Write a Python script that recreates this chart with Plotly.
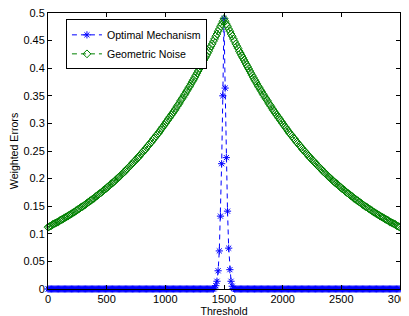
import plotly.graph_objects as go

thresholds = list(range(0, 3001, 10))

# Geometric Noise, thresholds 0..1500
geometric_left = [
    0.112, 0.113, 0.114, 0.115, 0.117, 0.118, 0.119, 0.120, 0.121, 0.122, 0.124,
    0.125, 0.126, 0.127, 0.129, 0.130, 0.131, 0.132, 0.134, 0.135, 0.136,
    0.138, 0.139, 0.140, 0.142, 0.143, 0.145, 0.146, 0.148, 0.149, 0.150,
    0.152, 0.153, 0.155, 0.157, 0.158, 0.160, 0.161, 0.163, 0.164, 0.166,
    0.168, 0.169, 0.171, 0.173, 0.174, 0.176, 0.178, 0.180, 0.181, 0.183,
    0.185, 0.187, 0.189, 0.191, 0.192, 0.194, 0.196, 0.198, 0.200, 0.202,
    0.204, 0.206, 0.208, 0.210, 0.212, 0.214, 0.217, 0.219, 0.221, 0.223,
    0.225, 0.228, 0.230, 0.232, 0.234, 0.237, 0.239, 0.241, 0.244, 0.246,
    0.249, 0.251, 0.253, 0.256, 0.259, 0.261, 0.264, 0.266, 0.269, 0.272,
    0.274, 0.277, 0.280, 0.282, 0.285, 0.288, 0.291, 0.294, 0.297, 0.300,
    0.303, 0.306, 0.309, 0.312, 0.315, 0.318, 0.321, 0.324, 0.327, 0.331,
    0.334, 0.337, 0.341, 0.344, 0.347, 0.351, 0.354, 0.358, 0.361, 0.365,
    0.368, 0.372, 0.376, 0.379, 0.383, 0.387, 0.391, 0.395, 0.399, 0.403,
    0.407, 0.411, 0.415, 0.419, 0.423, 0.427, 0.431, 0.436, 0.440, 0.444,
    0.449, 0.453, 0.458, 0.462, 0.467, 0.471, 0.476, 0.480, 0.485, 0.490,
]
# Geometric Noise, thresholds 1510..3000
geometric_right = [
    0.485, 0.480, 0.476, 0.471, 0.467, 0.462, 0.458, 0.453, 0.449, 0.444,
    0.440, 0.436, 0.431, 0.427, 0.423, 0.419, 0.415, 0.411, 0.407, 0.403,
    0.399, 0.395, 0.391, 0.387, 0.383, 0.379, 0.376, 0.372, 0.368, 0.365,
    0.361, 0.358, 0.354, 0.351, 0.347, 0.344, 0.341, 0.337, 0.334, 0.331,
    0.327, 0.324, 0.321, 0.318, 0.315, 0.312, 0.309, 0.306, 0.303, 0.300,
    0.297, 0.294, 0.291, 0.288, 0.285, 0.282, 0.280, 0.277, 0.274, 0.272,
    0.269, 0.266, 0.264, 0.261, 0.259, 0.256, 0.253, 0.251, 0.249, 0.246,
    0.244, 0.241, 0.239, 0.237, 0.234, 0.232, 0.230, 0.228, 0.225, 0.223,
    0.221, 0.219, 0.217, 0.214, 0.212, 0.210, 0.208, 0.206, 0.204, 0.202,
    0.200, 0.198, 0.196, 0.194, 0.192, 0.191, 0.189, 0.187, 0.185, 0.183,
    0.181, 0.180, 0.178, 0.176, 0.174, 0.173, 0.171, 0.169, 0.168, 0.166,
    0.164, 0.163, 0.161, 0.160, 0.158, 0.157, 0.155, 0.153, 0.152, 0.150,
    0.149, 0.148, 0.146, 0.145, 0.143, 0.142, 0.140, 0.139, 0.138, 0.136,
    0.135, 0.134, 0.132, 0.131, 0.130, 0.129, 0.127, 0.126, 0.125, 0.124,
    0.122, 0.121, 0.120, 0.119, 0.118, 0.117, 0.115, 0.114, 0.113, 0.112,
]
geometric_noise = geometric_left + geometric_right

# Optimal Mechanism: zero except around threshold 1420..1580
optimal_spike = [0.002, 0.006, 0.014, 0.033, 0.069, 0.132, 0.227, 0.350, 0.490,
                 0.364, 0.238, 0.141, 0.074, 0.035, 0.014, 0.005, 0.001]
optimal_mechanism = [0.0] * 142 + optimal_spike + [0.0] * 142

x_ticks = [0, 500, 1000, 1500, 2000, 2500, 3000]

FONT = "Liberation Sans, Arial, Helvetica, sans-serif"
BLUE = "rgb(0,0,255)"
GREEN = "rgb(0,128,0)"

fig = go.Figure()
fig.add_trace(go.Scatter(
    x=thresholds, y=optimal_mechanism, mode="lines+markers", name="Optimal Mechanism",
    line=dict(color=BLUE, width=1, dash="5px,4px"),
    marker=dict(symbol="asterisk-open", size=6, color=BLUE, line=dict(color=BLUE, width=1)),
    cliponaxis=False,
))
fig.add_trace(go.Scatter(
    x=thresholds, y=geometric_noise, mode="lines+markers", name="Geometric Noise",
    line=dict(color=GREEN, width=1, dash="5px,4px"),
    marker=dict(symbol="diamond-open", size=6, color=GREEN, line=dict(color=GREEN, width=1)),
    cliponaxis=False,
))

axis_common = dict(
    showline=True, linecolor="black", linewidth=1, mirror="ticks",
    ticks="inside", ticklen=4, tickcolor="black", tickwidth=1,
    showgrid=False, zeroline=False, automargin=False,
    ticklabeloverflow="allow",
    tickfont=dict(family=FONT, size=11, color="black"),
)

# the page body adds an ~8px offset, so margins are shifted to compensate
fig.update_layout(
    width=409, height=316,
    margin=dict(l=40, r=17, t=5, b=35),
    paper_bgcolor="white", plot_bgcolor="white",
    font=dict(family=FONT, size=11, color="black"),
    showlegend=True,
    legend=dict(
        x=0.051, y=0.977, xanchor="left", yanchor="top",
        bgcolor="white", bordercolor="black", borderwidth=1,
        font=dict(family=FONT, size=10.6, color="black"),
        tracegroupgap=0, itemwidth=30,
    ),
    xaxis=dict(
        range=[0, 3000], tickvals=x_ticks,
        title=dict(text="Threshold", font=dict(family=FONT, size=10.6, color="black"), standoff=2),
        **axis_common,
    ),
    yaxis=dict(
        range=[0, 0.5], dtick=0.05, tick0=0,
        title=dict(text="Weighted Errors", font=dict(family=FONT, size=10.6, color="black"), standoff=4),
        **axis_common,
    ),
)

fig.write_html("out.html")
